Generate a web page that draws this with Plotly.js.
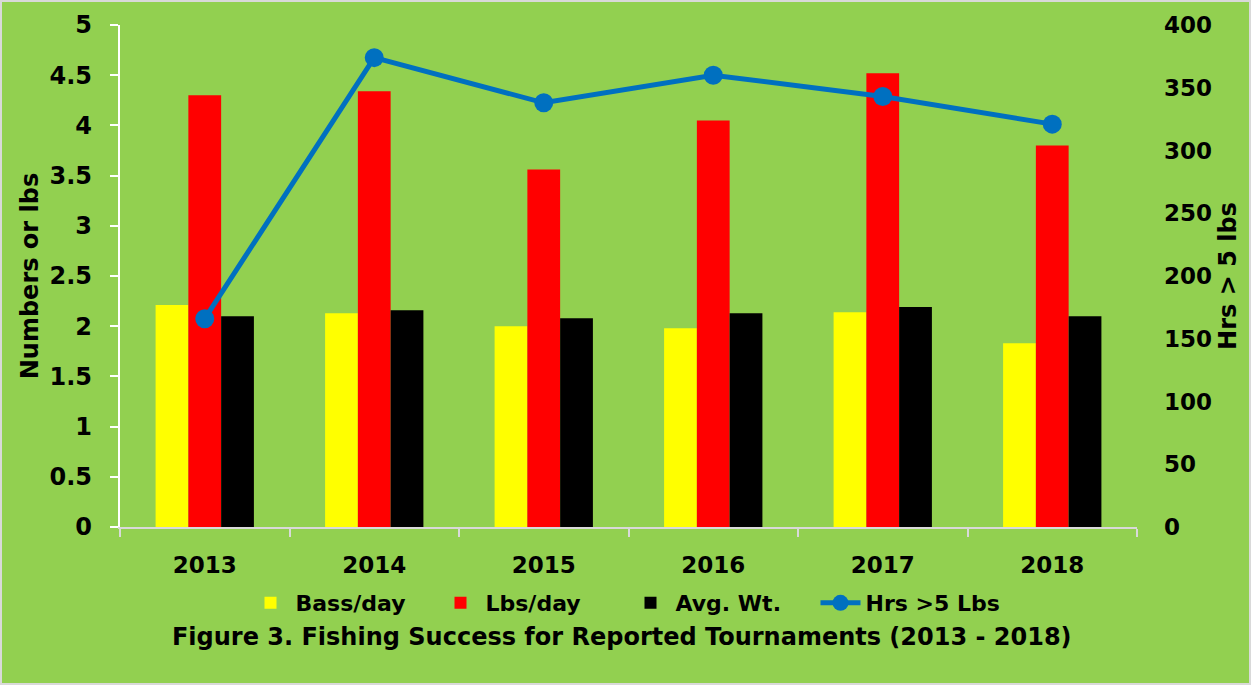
<!DOCTYPE html>
<html>
<head>
<meta charset="utf-8">
<script src="https://cdn.plot.ly/plotly-3.0.1.min.js"></script>
<style>
  html, body { margin: 0; padding: 0; background: #ffffff; }
  #chart { width: 1251px; height: 685px; box-sizing: border-box; border: 2px solid #d9d9d9; }
</style>
</head>
<body>
<div id="chart"></div>
<script>
const years = ['2013', '2014', '2015', '2016', '2017', '2018'];
const bassPerDay = [2.21, 2.13, 2.00, 1.98, 2.14, 1.83];
const lbsPerDay = [4.30, 4.34, 3.56, 4.05, 4.52, 3.80];
const avgWt = [2.10, 2.16, 2.08, 2.13, 2.19, 2.10];
const hrsOver5 = [166, 374, 338, 360, 343, 321];

const FONT = 'DejaVu Sans, Verdana, sans-serif';

const traces = [
  { type: 'bar', name: 'Bass/day', x: years, y: bassPerDay, marker: { color: '#FFFF00' } },
  { type: 'bar', name: 'Lbs/day', x: years, y: lbsPerDay, marker: { color: '#FF0000' } },
  { type: 'bar', name: 'Avg. Wt.', x: years, y: avgWt, marker: { color: '#000000' } },
  { type: 'scatter', mode: 'lines+markers', name: 'Hrs >5 Lbs', x: years, y: hrsOver5, yaxis: 'y2',
    line: { color: '#0070C0', width: 5 }, marker: { color: '#0070C0', size: 19 } },
  // empty helper trace so the tick-mark axis (y3) is drawn
  { type: 'scatter', mode: 'markers', x: [], y: [], yaxis: 'y3', showlegend: false, hoverinfo: 'skip' }
];

const layout = {
  width: 1247, height: 681,
  paper_bgcolor: '#92D050',
  plot_bgcolor: '#92D050',
  margin: { l: 118, r: 112, t: 23, b: 156 },
  barmode: 'group',
  bargap: 0.42,
  bargroupgap: 0,
  showlegend: true,
  font: { family: FONT, color: '#000000', weight: 'bold' },
  title: {
    text: 'Figure 3. Fishing Success for Reported Tournaments (2013 - 2018)',
    font: { family: FONT, size: 24, weight: 'bold', color: '#000000' },
    x: 0.497, xanchor: 'center', xref: 'container',
    y: 1 - 635 / 681, yanchor: 'middle', yref: 'container'
  },
  legend: {
    orientation: 'h', x: 0.5, xanchor: 'center', xref: 'container',
    y: 1 - 601 / 681, yanchor: 'middle', yref: 'container',
    font: { family: FONT, size: 22, weight: 'bold' },
    bgcolor: 'rgba(0,0,0,0)', itemwidth: 40, entrywidth: 135, entrywidthmode: 'pixels'
  },
  xaxis: {
    type: 'category',
    showgrid: false, zeroline: false,
    showline: true, linecolor: '#D9D9D9', linewidth: 2,
    ticks: 'outside', tickson: 'boundaries', ticklen: 8, tickcolor: '#D9D9D9', tickwidth: 2,
    tickfont: { family: FONT, size: 23, weight: 'bold' },
    ticklabelstandoff: 16
  },
  yaxis: {
    range: [0, 5], dtick: 0.5,
    showgrid: false, zeroline: false,
    showline: false,
    ticks: '', ticklabelstandoff: 27,
    tickfont: { family: FONT, size: 24, weight: 'bold' },
    title: { text: 'Numbers or lbs', font: { family: FONT, size: 24, weight: 'bold' }, standoff: 4 }
  },
  yaxis3: {
    overlaying: 'y', side: 'left',
    range: [0, 5], dtick: 0.5,
    showgrid: false, zeroline: false, showticklabels: false,
    showline: true, linecolor: '#FFFFFF', linewidth: 2,
    ticks: 'outside', ticklen: 8, tickcolor: '#FFFFFF', tickwidth: 2
  },
  yaxis2: {
    overlaying: 'y', side: 'right',
    range: [0, 400], dtick: 50,
    showgrid: false, zeroline: false, showline: false,
    ticks: '', ticklabelstandoff: 26,
    tickfont: { family: FONT, size: 23, weight: 'bold' },
    title: { text: 'Hrs > 5 lbs', font: { family: FONT, size: 24, weight: 'bold' }, standoff: 8 }
  }
};

Plotly.newPlot('chart', traces, layout, { displayModeBar: false, staticPlot: true });
</script>
</body>
</html>
